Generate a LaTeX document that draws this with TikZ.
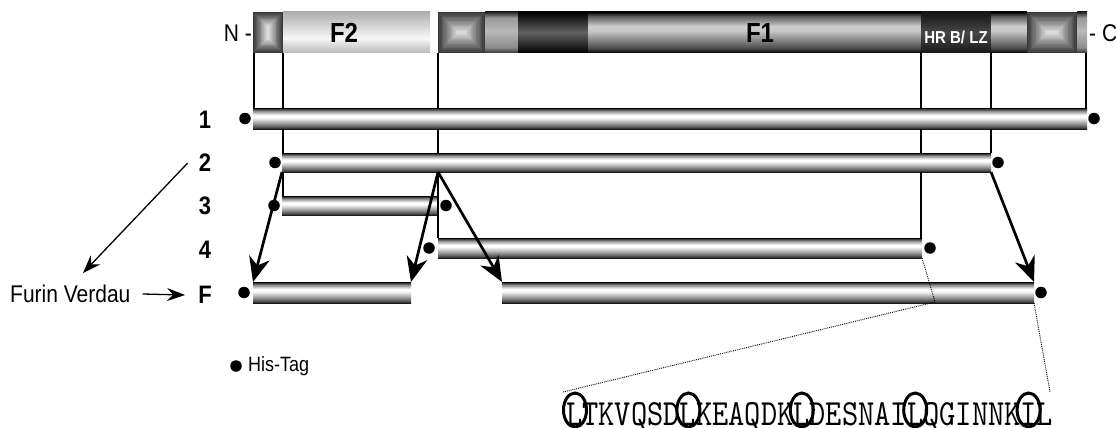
\documentclass[tikz,border=0pt]{standalone}
\usepackage{fontspec}
\setmainfont{Liberation Sans}
\usepackage{graphicx}
\usetikzlibrary{arrows.meta}
% cylinder look for the construct bars
\pgfdeclareverticalshading{mycyl}{100bp}{color(0bp)=(black!90); color(25bp)=(black!90); color(29bp)=(black!70); color(40bp)=(black!35); color(53bp)=(white); color(58bp)=(white); color(68bp)=(black!45); color(73bp)=(black!80); color(75bp)=(black); color(100bp)=(black)}
\pgfdeclareverticalshading{myftwo}{100bp}{color(0bp)=(black!28); color(25bp)=(black!28); color(43bp)=(black!3); color(75bp)=(black!32); color(100bp)=(black!32)}
\pgfdeclareverticalshading{mytube}{100bp}{color(0bp)=(black); color(25bp)=(black); color(31bp)=(black!70); color(52bp)=(black!22); color(58bp)=(black!20); color(70bp)=(black!65); color(75bp)=(black); color(100bp)=(black)}
\pgfdeclareverticalshading{mylight}{100bp}{color(0bp)=(black!80); color(25bp)=(black!80); color(32bp)=(black!45); color(52bp)=(black!28); color(68bp)=(black!40); color(75bp)=(black!85); color(100bp)=(black!85)}
\pgfdeclareverticalshading{mydark}{100bp}{color(0bp)=(black); color(25bp)=(black); color(50bp)=(black!62); color(75bp)=(black); color(100bp)=(black)}
\pgfdeclareverticalshading{myhr}{100bp}{color(0bp)=(black!90); color(25bp)=(black!90); color(50bp)=(black!72); color(75bp)=(black!92); color(100bp)=(black!92)}
\newcommand\pyrbox[2]{%
  \pgfmathsetmacro\pyrw{#2-#1}%
  \pgfmathsetmacro\pyrd{min(\pyrw,41)/2/16}%
  \foreach \i in {0,...,15}{%
    \pgfmathtruncatemacro\pyrc{78-64*\i/15}%
    \fill[black!\pyrc] ({#1+\i*\pyrd},{12+\i*\pyrd}) rectangle ({#2-\i*\pyrd},{53-\i*\pyrd});
  }%
}
\newcommand\tall[1]{\scalebox{1}[1.15]{#1}}
\tikzset{
  bar/.style={shade, shading=mycyl, inner sep=0pt, outer sep=0pt, anchor=north west},
  vline/.style={line width=1.4pt, black},
  bigarrow/.style={line width=2.7pt, -{Stealth[length=25pt,width=21pt,inset=8pt]}},
  smallarrow/.style={line width=1.3pt, -{Stealth[length=18pt,width=13pt,inset=6pt]}},
  hisdot/.style={circle, fill=black, inner sep=0pt, minimum size=11.5pt},
  rowlab/.style={font=\bfseries\fontsize{22}{26}\selectfont, inner sep=0pt},
  seglab/.style={font=\bfseries\fontsize{24}{28}\selectfont, inner sep=0pt},
  plain/.style={font=\fontsize{20}{24}\selectfont, inner sep=0pt},
  zoomline/.style={densely dotted, line width=0.9pt, black},
  ring/.style={line width=3pt, black}
}
\begin{document}
\begin{tikzpicture}[x=1pt, y=-1pt]
\useasboundingbox (0,0) rectangle (1116,428);
% ---------- top domain bar ----------
\pyrbox{253}{283}
\shade[shading=myftwo] (283,12) rectangle (430,53);
\pyrbox{438}{485}
\shade[shading=mylight] (485,12) rectangle (518,53);
\shade[shading=mydark] (518,12) rectangle (588,53);
\shade[shading=mytube] (588,12) rectangle (921,53);
\shade[shading=myhr] (921,12) rectangle (991,53);
\shade[shading=mytube] (991,12) rectangle (1027,53);
\pyrbox{1027}{1077}
\shade[shading=mylight] (1077,12) rectangle (1087,53);
\node[seglab] (f2) at (344,33) {\tall{F2}};
\node[seglab] (f1) at (760,33) {\tall{F1}};
\node[font=\bfseries\fontsize{15}{17}\selectfont, text=white, inner sep=0pt] (hr) at (956,37) {\tall{HR B/ LZ}};
\node[plain, font=\fontsize{21}{24}\selectfont, anchor=east] (nterm) at (252,33) {\tall{N -}};
\node[plain, font=\fontsize{21}{24}\selectfont, anchor=west] (cterm) at (1089,33) {\tall{- C}};
% ---------- construct bars ----------
\node[bar, minimum width=834pt, minimum height=21pt] (b1) at (253,108) {};
\node[bar, minimum width=709pt, minimum height=19pt] (b2) at (282,153) {};
\node[bar, minimum width=156pt, minimum height=19pt] (b3) at (282,196) {};
\node[bar, minimum width=484pt, minimum height=20pt] (b4) at (438,238) {};
\node[bar, minimum width=158pt, minimum height=21pt] (bFl) at (253,282) {};
\node[bar, minimum width=532pt, minimum height=21pt] (bFr) at (502,282) {};
% ---------- guide lines ----------
\coordinate (t1) at (254,53);
\coordinate (t2) at (283,53);
\coordinate (t3) at (438,53);
\coordinate (t4) at (921,53);
\coordinate (t5) at (991,53);
\coordinate (t6) at (1086,53);
\draw[vline] (t1) -- (t1 |- b1.north);
\draw[vline] (t6) -- (t6 |- b1.north);
\draw[vline] (t2) -- (t2 |- b1.north) (t2 |- b1.south) -- (t2 |- b2.north) (t2 |- b2.south) -- (t2 |- b3.north);
\draw[vline] (t3) -- (t3 |- b1.north) (t3 |- b1.south) -- (t3 |- b2.north) (t3 |- b2.south) -- (t3 |- b4.north);
\draw[vline] (t4) -- (t4 |- b1.north) (t4 |- b1.south) -- (t4 |- b2.north) (t4 |- b2.south) -- (t4 |- b4.north);
\draw[vline] (t5) -- (t5 |- b1.north) (t5 |- b1.south) -- (t5 |- b2.north);
% ---------- His-tag dots ----------
\node[hisdot] (d1l) at ([xshift=-8pt]b1.west) {};
\node[hisdot] (d1r) at ([xshift=7pt]b1.east) {};
\node[hisdot] (d2l) at ([xshift=-7pt]b2.west) {};
\node[hisdot] (d2r) at ([xshift=7pt]b2.east) {};
\node[hisdot] (d3l) at ([xshift=-8pt]b3.west) {};
\node[hisdot] (d3r) at ([xshift=8pt]b3.east) {};
\node[hisdot] (d4l) at ([xshift=-9pt]b4.west) {};
\node[hisdot] (d4r) at ([xshift=8pt]b4.east) {};
\node[hisdot] (dFl) at ([xshift=-9pt]bFl.west) {};
\node[hisdot] (dFr) at ([xshift=7pt]bFr.east) {};
% ---------- row labels ----------
\node[rowlab] (l1) at (205,120) {\tall{1}};
\node[rowlab] (l2) at (205,163) {\tall{2}};
\node[rowlab] (l3) at (205,206) {\tall{3}};
\node[rowlab] (l4) at (205,250) {\tall{4}};
\node[rowlab] (lF) at (205,295) {\tall{F}};
\node[plain, font=\fontsize{21}{25}\selectfont, anchor=west] (fv) at (10,294) {\tall{Furin Verdau}};
\coordinate (fvtip) at (83,273);
\draw[smallarrow] ([xshift=12pt]fv.east) -- ([xshift=-13pt]lF.west);
\draw[smallarrow] ([xshift=-11pt]l2.west) -- (fvtip);
% ---------- processing arrows ----------
\coordinate (c2) at (b3.east |- b2.south);
\draw[bigarrow] (b2.south west) -- (bFl.north west);
\draw[bigarrow] (c2) -- (bFl.north east);
\draw[bigarrow] (c2) -- (bFr.north west);
\draw[bigarrow] (b2.south east) -- (bFr.north east);
% ---------- legend ----------
\node[hisdot] (legdot) at (236,366) {};
\node[plain, font=\fontsize{18}{21}\selectfont, anchor=west] (legtxt) at (248,366) {\tall{His-Tag}};
% ---------- heptad sequence ----------
\node[anchor=base west, inner sep=0pt] (seq) at (566,425) {\resizebox{487pt}{23pt}{\ttfamily LTKVQSDLKEAQDKLDESNAILQGINNKIL}};
\foreach \k in {0,7,14,21,28}{
  \draw[ring] ({575+16.2*\k},410) ellipse [x radius=11.5, y radius=17];
}
\coordinate (z1) at (935,302);
\coordinate (sl) at (563,392);
\coordinate (sr) at (1050,392);
\draw[zoomline] (b4.south east) -- (z1) -- (sl);
\draw[zoomline] (bFr.south east) -- (sr);
\end{tikzpicture}
\end{document}
